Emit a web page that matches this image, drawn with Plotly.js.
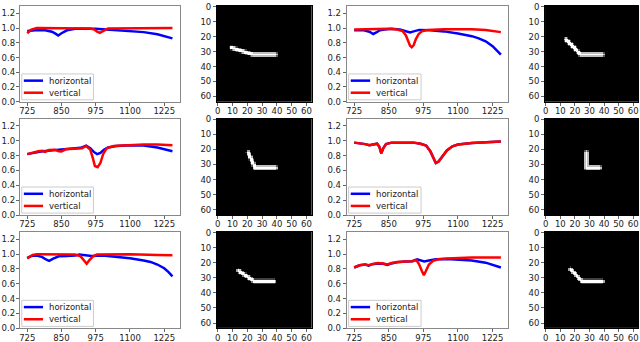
<!DOCTYPE html>
<html>
<head>
<meta charset="utf-8">
<script src="https://cdn.plot.ly/plotly-3.0.1.min.js"></script>
<style>
  html, body { margin: 0; padding: 0; background: #fff; }
  #grid { width: 640px; height: 342px; }
</style>
</head>
<body>
<div id="grid"></div>
<script>
// response curves, one pair per line panel (h = horizontal, v = vertical)
var h1x = [725, 745, 765, 790, 815, 828, 838, 850, 870, 900, 940, 975, 1000, 1050, 1100, 1150, 1200, 1230, 1255];
var h1y = [0.96, 0.97, 0.975, 0.97, 0.95, 0.925, 0.90, 0.93, 0.97, 0.99, 0.995, 0.99, 0.985, 0.975, 0.965, 0.945, 0.915, 0.89, 0.86];
var v1x = [725, 740, 760, 800, 900, 955, 970, 980, 990, 1000, 1010, 1020, 1100, 1255];
var v1y = [0.93, 0.98, 1.0, 1.0, 1.0, 0.995, 0.98, 0.95, 0.935, 0.95, 0.975, 0.995, 1.0, 1.0];

var h2x = [725, 760, 780, 794, 805, 818, 835, 860, 890, 905, 918, 927, 940, 960, 1000, 1050, 1100, 1150, 1175, 1200, 1225, 1240, 1255];
var h2y = [0.97, 0.97, 0.95, 0.92, 0.94, 0.97, 0.98, 0.99, 0.98, 0.96, 0.945, 0.94, 0.955, 0.975, 0.97, 0.955, 0.925, 0.89, 0.86, 0.82, 0.755, 0.70, 0.64];
var v2x = [725, 800, 850, 880, 900, 912, 920, 927, 933, 940, 948, 958, 970, 990, 1050, 1100, 1150, 1200, 1230, 1255];
var v2y = [0.98, 0.985, 0.99, 0.98, 0.96, 0.90, 0.82, 0.76, 0.74, 0.77, 0.85, 0.92, 0.955, 0.975, 0.985, 0.99, 0.985, 0.975, 0.96, 0.945];

var h3x = [725, 750, 775, 800, 830, 860, 890, 920, 940, 955, 968, 980, 992, 1005, 1020, 1050, 1100, 1150, 1200, 1230, 1255];
var h3y = [0.82, 0.84, 0.855, 0.865, 0.875, 0.885, 0.895, 0.905, 0.935, 0.90, 0.85, 0.82, 0.835, 0.88, 0.91, 0.93, 0.94, 0.935, 0.91, 0.885, 0.86];
var v3x = [725, 745, 765, 780, 790, 805, 825, 840, 850, 865, 900, 925, 940, 955, 965, 972, 982, 992, 1002, 1015, 1040, 1100, 1150, 1200, 1255];
var v3y = [0.82, 0.845, 0.86, 0.865, 0.85, 0.875, 0.88, 0.86, 0.855, 0.885, 0.89, 0.90, 0.93, 0.88, 0.76, 0.66, 0.645, 0.70, 0.82, 0.90, 0.93, 0.945, 0.95, 0.95, 0.94];

var h4x = [725, 745, 765, 780, 795, 808, 816, 823, 830, 840, 860, 900, 940, 965, 985, 1000, 1010, 1020, 1030, 1045, 1060, 1080, 1100, 1150, 1200, 1255];
var h4y = [0.975, 0.97, 0.955, 0.94, 0.95, 0.96, 0.92, 0.83, 0.90, 0.955, 0.975, 0.98, 0.975, 0.96, 0.935, 0.86, 0.78, 0.70, 0.72, 0.80, 0.87, 0.925, 0.95, 0.97, 0.98, 0.99];
var v4x = h4x.slice();
var v4y = [0.975, 0.97, 0.955, 0.94, 0.95, 0.96, 0.92, 0.83, 0.90, 0.955, 0.975, 0.98, 0.975, 0.96, 0.935, 0.86, 0.78, 0.70, 0.72, 0.80, 0.87, 0.925, 0.95, 0.97, 0.98, 0.99];

var h5x = [725, 740, 760, 780, 795, 805, 820, 840, 870, 900, 915, 930, 960, 1000, 1050, 1100, 1150, 1175, 1200, 1225, 1240, 1255];
var h5y = [0.95, 0.975, 0.98, 0.96, 0.925, 0.91, 0.94, 0.97, 0.975, 0.98, 0.995, 0.985, 0.975, 0.98, 0.965, 0.945, 0.915, 0.895, 0.86, 0.81, 0.76, 0.70];
var v5x = [725, 745, 760, 900, 920, 932, 942, 952, 965, 980, 1100, 1200, 1255];
var v5y = [0.94, 0.99, 1.0, 0.995, 0.97, 0.92, 0.87, 0.92, 0.97, 0.995, 1.0, 0.99, 0.985];

var h6x = [725, 745, 765, 778, 790, 810, 830, 845, 860, 880, 910, 935, 952, 965, 978, 995, 1020, 1060, 1100, 1150, 1200, 1230, 1255];
var h6y = [0.82, 0.85, 0.86, 0.845, 0.865, 0.875, 0.87, 0.855, 0.875, 0.89, 0.90, 0.905, 0.93, 0.915, 0.90, 0.915, 0.93, 0.935, 0.93, 0.915, 0.885, 0.855, 0.82];
var v6x = [725, 745, 765, 778, 790, 810, 830, 845, 860, 880, 910, 935, 950, 960, 970, 977, 985, 995, 1010, 1030, 1060, 1100, 1150, 1200, 1255];
var v6y = [0.82, 0.85, 0.86, 0.85, 0.865, 0.88, 0.875, 0.86, 0.88, 0.895, 0.90, 0.905, 0.92, 0.86, 0.77, 0.715, 0.78, 0.86, 0.91, 0.93, 0.94, 0.95, 0.955, 0.955, 0.955];

// arm strokes drawn into the 64x64 images, [col, row] vertices
var arm1 = [[9.5, 27.5], [23.5, 32], [39, 32]];
var arm2 = [[14, 22], [24, 32], [39, 32]];
var arm3 = [[20.5, 22], [25, 32], [39, 32]];
var arm4 = [[28, 22], [28, 32], [37, 32]];
var arm5 = [[14, 25.5], [24.5, 32.5], [38, 32.5]];
var arm6 = [[17, 24.5], [25, 32.5], [39, 32.5]];

var tickWave = [725, 850, 975, 1100, 1225];
var tickResp = [0, 0.2, 0.4, 0.6, 0.8, 1.0, 1.2];
var tickPix = [0, 10, 20, 30, 40, 50, 60];

var lines = [[h1x, h1y, v1x, v1y], [h2x, h2y, v2x, v2y], [h3x, h3y, v3x, v3y],
             [h4x, h4y, v4x, v4y], [h5x, h5y, v5x, v5y], [h6x, h6y, v6x, v6y]];
var arms = [arm1, arm2, arm3, arm4, arm5, arm6];

var colX = [[0.031, 0.281], [0.339, 0.487], [0.5417, 0.7943], [0.8516, 0.9973]];
var rowY = [[0.7026, 0.9825], [0.3713, 0.6535], [0.0400, 0.3220]];

var font = {family: 'DejaVu Sans', size: 8.5, color: '#222'};

function segDist(px, py, a, b) {
  var dx = b[0] - a[0], dy = b[1] - a[1];
  var t = ((px - a[0]) * dx + (py - a[1]) * dy) / (dx * dx + dy * dy);
  t = Math.max(0, Math.min(1, t));
  var qx = a[0] + t * dx - px, qy = a[1] + t * dy - py;
  return Math.sqrt(qx * qx + qy * qy);
}

function rasterize(pts) {
  var z = [];
  for (var r = 0; r < 64; r++) {
    var row = [];
    for (var c = 0; c < 64; c++) {
      var d = 99;
      for (var k = 0; k < pts.length - 1; k++) d = Math.min(d, segDist(c, r, pts[k], pts[k + 1]));
      row.push(Math.max(0, Math.min(1, 1.75 - d)));
    }
    z.push(row);
  }
  return z;
}

function axisBase() {
  return {
    showgrid: false, zeroline: false, showline: true, mirror: true,
    linecolor: '#888', linewidth: 1, ticks: 'outside', ticklen: 3,
    tickcolor: '#666', tickfont: font
  };
}

var data = [];
var layout = {
  width: 640, height: 342, margin: {l: 0, r: 0, t: 0, b: 0},
  paper_bgcolor: '#fff', plot_bgcolor: '#fff', showlegend: false,
  font: font, shapes: [], annotations: []
};

for (var i = 0; i < 6; i++) {
  var n = i + 1, row = Math.floor(i / 2), col = (i % 2) * 2;
  var xr = n === 1 ? 'x' : 'x' + n, yr = n === 1 ? 'y' : 'y' + n;
  var L = lines[i];
  data.push({x: L[0], y: L[1], xaxis: xr, yaxis: yr, type: 'scatter', mode: 'lines',
             line: {color: '#0000ff', width: 2.5}, name: 'horizontal'});
  data.push({x: L[2], y: L[3], xaxis: xr, yaxis: yr, type: 'scatter', mode: 'lines',
             line: {color: '#ff0000', width: 2.5}, name: 'vertical'});
  var xa = axisBase(), ya = axisBase();
  xa.domain = colX[col]; xa.anchor = yr; xa.range = [698, 1282]; xa.tickvals = tickWave;
  xa.ticklabelstandoff = -2;
  ya.domain = rowY[row]; ya.anchor = xr; ya.range = [0, 1.3]; ya.tickvals = tickResp; ya.tickformat = '.1f';
  if (col === 0) ya.ticklabelstandoff = -1;
  layout[n === 1 ? 'xaxis' : 'xaxis' + n] = xa;
  layout[n === 1 ? 'yaxis' : 'yaxis' + n] = ya;

  // legend box in the lower left corner
  layout.shapes.push({type: 'rect', xref: xr + ' domain', yref: yr + ' domain',
    x0: 0.012, x1: 0.46, y0: 0.02, y1: 0.29, fillcolor: 'rgba(255,255,255,0.85)',
    line: {color: '#ccc', width: 1}});
  layout.shapes.push({type: 'line', xref: xr + ' domain', yref: yr + ' domain',
    x0: 0.025, x1: 0.145, y0: 0.22, y1: 0.22, line: {color: '#0000ff', width: 2.5}});
  layout.shapes.push({type: 'line', xref: xr + ' domain', yref: yr + ' domain',
    x0: 0.025, x1: 0.145, y0: 0.094, y1: 0.094, line: {color: '#ff0000', width: 2.5}});
  layout.annotations.push({text: 'horizontal', xref: xr + ' domain', yref: yr + ' domain',
    x: 0.17, y: 0.22, xanchor: 'left', yanchor: 'middle', showarrow: false, font: font});
  layout.annotations.push({text: 'vertical', xref: xr + ' domain', yref: yr + ' domain',
    x: 0.17, y: 0.094, xanchor: 'left', yanchor: 'middle', showarrow: false, font: font});
}

for (var j = 0; j < 6; j++) {
  var m = j + 7, hrow = Math.floor(j / 2), hcol = (j % 2) * 2 + 1;
  data.push({z: rasterize(arms[j]), type: 'heatmap', xaxis: 'x' + m, yaxis: 'y' + m,
             colorscale: [[0, '#000'], [1, '#fff']], zmin: 0, zmax: 1,
             showscale: false, hoverinfo: 'skip'});
  var hx = axisBase(), hy = axisBase();
  hx.domain = colX[hcol]; hx.anchor = 'y' + m; hx.range = [-0.5, 63.5]; hx.tickvals = tickPix;
  hx.ticklabelstandoff = -2;
  hy.domain = rowY[hrow]; hy.anchor = 'x' + m; hy.range = [63.5, -0.5]; hy.tickvals = tickPix;
  hx.linecolor = '#000'; hy.linecolor = '#000';
  layout['xaxis' + m] = hx;
  layout['yaxis' + m] = hy;
}

Plotly.newPlot('grid', data, layout, {staticPlot: true});
</script>
</body>
</html>
